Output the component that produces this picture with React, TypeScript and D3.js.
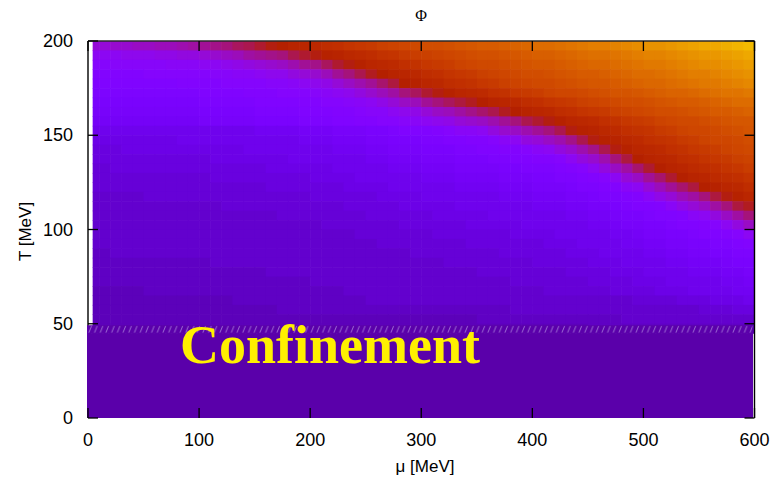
import React from 'react';
import * as d3 from 'd3';

// grid: mu column centres [MeV], T row centres [MeV]
const MU_COLS = [5,15,25,35,45,55,65,75,85,95,105,115,125,135,145,155,165,175,185,195,205,215,225,235,245,255,265,275,285,295,305,315,325,335,345,355,365,375,385,395,405,415,425,435,445,455,465,475,485,495,505,515,525,535,545,555,565,575,585,595];
const T_ROWS = [197.5,192.5,187.5,182.5,177.5,172.5,167.5,162.5,157.5,152.5,147.5,142.5,137.5,132.5,127.5,122.5,117.5,112.5,107.5,102.5,97.5,92.5,87.5,82.5,77.5,72.5,67.5,62.5,57.5,52.5,47.5];

// Phi (colour-box fraction, in %) per T row, per mu column
const PHI = [
[34,34,35,35,36,36,37,37,38,39,40,41,42,44,45,47,49,50,52,53,54,56,57,59,60,61,63,64,65,66,67,67,68,69,70,71,71,72,73,74,75,75,76,77,78,79,79,80,81,82,83,83,84,85,86,87,87,88,89,90],
[30,30,30,31,31,31,32,32,33,33,34,35,36,37,39,40,41,42,45,47,49,51,52,54,55,56,58,59,61,62,63,64,65,66,67,68,68,69,70,71,72,72,73,74,75,76,76,77,78,79,80,80,81,82,83,84,84,85,86,87],
[27,27,28,28,28,28,28,29,29,29,30,30,31,32,33,34,35,36,38,40,41,44,47,49,51,53,54,55,57,58,60,61,62,64,65,66,66,67,68,69,70,70,71,72,73,74,74,75,76,77,78,78,79,80,81,82,82,83,84,85],
[26,26,26,26,26,27,27,27,27,27,27,28,28,29,29,30,31,31,33,34,35,37,40,42,45,48,50,52,53,54,56,57,59,60,61,63,64,65,66,67,67,68,69,70,71,71,72,73,74,75,75,76,77,78,79,79,80,81,82,83],
[25,25,25,25,25,25,25,25,26,26,26,26,27,27,27,27,28,28,29,30,31,32,34,36,38,40,43,46,50,51,53,54,56,57,58,60,61,63,64,65,66,66,67,68,69,70,70,71,72,73,74,74,75,76,77,78,78,79,80,81],
[24,24,24,24,24,24,24,24,24,24,25,25,25,25,26,26,26,27,27,27,28,29,30,31,33,35,37,39,42,44,47,49,51,53,54,55,57,58,60,61,62,64,65,65,66,67,68,69,69,70,71,72,73,73,74,75,76,77,77,78],
[23,23,23,23,23,23,23,23,23,23,24,24,24,24,24,25,25,25,25,26,26,27,27,28,29,30,32,34,36,37,40,42,44,46,48,50,52,53,54,56,57,59,60,61,63,64,65,66,67,67,68,69,70,71,71,72,73,74,75,75],
[22,22,22,22,22,22,22,22,22,22,23,23,23,23,23,24,24,24,24,25,25,25,26,26,27,28,28,30,31,32,34,36,37,39,41,43,45,48,50,52,53,54,56,57,59,60,61,63,64,65,66,67,67,68,69,70,71,71,72,73],
[21,21,21,21,21,21,21,21,21,21,22,22,22,22,22,23,23,23,23,24,24,24,25,25,26,26,27,27,28,29,30,31,32,34,35,36,38,40,42,45,47,49,51,53,54,55,57,58,60,61,62,64,65,66,66,67,68,69,70,70],
[19,19,19,19,19,19,19,19,19,19,19,19,19,19,19,20,20,20,20,21,21,21,22,22,22,23,23,24,25,25,25,26,27,29,29,30,33,35,36,38,40,42,45,49,51,52,54,55,57,58,59,61,62,64,65,65,66,67,68,69],
[18,18,18,18,18,18,18,18,19,19,19,19,19,19,19,19,19,19,19,20,20,20,21,21,21,22,22,23,23,23,24,24,25,25,26,26,27,29,30,33,34,36,38,41,45,49,51,52,54,55,57,58,59,61,62,64,65,65,66,67],
[17,17,17,18,18,18,18,18,18,18,18,18,18,18,19,19,19,19,19,19,19,19,20,20,20,21,21,22,22,22,23,23,23,24,24,25,25,26,26,27,29,30,33,35,38,41,45,49,51,53,54,55,57,58,60,61,62,64,65,66],
[17,17,17,17,17,17,17,17,17,17,17,18,18,18,18,18,18,18,19,19,19,19,19,19,19,20,20,21,21,21,22,22,22,23,23,23,24,24,25,25,26,26,27,30,33,35,38,42,46,50,52,53,54,56,57,59,60,61,63,64],
[16,16,17,17,17,17,17,17,17,17,17,17,17,17,17,17,18,18,18,18,18,18,19,19,19,19,19,20,20,20,21,21,21,22,22,22,22,23,23,24,24,24,25,26,27,30,33,36,39,43,47,50,52,53,55,56,57,59,60,62],
[16,16,16,16,16,16,16,16,16,16,16,17,17,17,17,17,17,17,17,17,18,18,18,18,19,19,19,19,19,19,20,20,20,21,21,21,21,22,22,22,23,23,24,24,25,26,27,30,34,36,40,43,47,50,52,53,55,56,57,59],
[16,16,16,16,16,16,16,16,16,16,16,16,16,16,16,16,17,17,17,17,17,17,17,18,18,18,18,19,19,19,19,19,19,20,20,20,20,21,21,21,22,22,22,23,24,24,25,26,29,30,34,37,40,43,46,50,51,53,54,56],
[15,15,15,15,15,16,16,16,16,16,16,16,16,16,16,16,16,16,16,16,17,17,17,17,17,17,18,18,18,18,19,19,19,19,19,19,19,20,20,20,21,21,21,22,22,23,24,24,25,26,29,32,34,37,39,42,46,49,51,53],
[15,15,15,15,15,15,15,15,15,15,15,15,16,16,16,16,16,16,16,16,16,16,16,17,17,17,17,17,18,18,18,18,18,19,19,19,19,19,19,19,20,20,20,21,21,22,22,23,24,25,25,26,29,32,34,36,39,42,46,48],
[15,15,15,15,15,15,15,15,15,15,15,15,15,15,15,15,15,16,16,16,16,16,16,16,16,17,17,17,17,17,17,18,18,18,18,18,19,19,19,19,19,19,19,20,20,21,21,22,23,23,24,25,25,26,29,30,33,36,39,42],
[15,15,15,15,15,15,15,15,15,15,15,15,15,15,15,15,15,15,15,15,15,16,16,16,16,16,16,16,17,17,17,17,17,17,18,18,18,18,18,19,19,19,19,19,19,20,20,21,22,22,23,23,24,25,25,26,27,30,33,36],
[15,15,15,15,15,15,15,15,15,15,15,15,15,15,15,15,15,15,15,15,15,15,15,15,16,16,16,16,16,16,16,17,17,17,17,17,17,17,18,18,18,18,19,19,19,19,19,20,20,21,22,22,23,23,24,25,25,26,27,30],
[15,15,15,15,15,15,15,15,15,15,15,15,15,15,15,15,15,15,15,15,15,15,15,15,15,15,16,16,16,16,16,16,16,16,17,17,17,17,17,17,17,18,18,18,19,19,19,19,20,20,21,21,22,22,23,23,24,24,25,26],
[14,14,15,15,15,15,15,15,15,15,15,15,15,15,15,15,15,15,15,15,15,15,15,15,15,15,15,15,15,16,16,16,16,16,16,16,16,17,17,17,17,17,17,18,18,18,19,19,19,19,20,20,21,21,22,22,23,23,24,24],
[14,14,14,14,14,14,14,14,14,14,14,15,15,15,15,15,15,15,15,15,15,15,15,15,15,15,15,15,15,15,15,15,16,16,16,16,16,16,16,16,17,17,17,17,17,18,18,18,19,19,19,19,20,20,21,21,21,22,23,23],
[14,14,14,14,14,14,14,14,14,14,14,14,14,14,14,14,15,15,15,15,15,15,15,15,15,15,15,15,15,15,15,15,15,15,15,16,16,16,16,16,16,16,16,17,17,17,17,18,18,18,19,19,19,19,20,20,20,21,21,22],
[14,14,14,14,14,14,14,14,14,14,14,14,14,14,14,14,14,14,14,14,15,15,15,15,15,15,15,15,15,15,15,15,15,15,15,15,15,15,16,16,16,16,16,16,16,17,17,17,17,18,18,18,19,19,19,19,19,20,20,21],
[13,13,13,13,13,14,14,14,14,14,14,14,14,14,14,14,14,14,14,14,14,14,14,15,15,15,15,15,15,15,15,15,15,15,15,15,15,15,15,15,15,16,16,16,16,16,16,17,17,17,17,18,18,18,19,19,19,19,20,20],
[13,13,13,13,13,13,13,13,13,13,13,13,13,14,14,14,14,14,14,14,14,14,14,14,14,15,15,15,15,15,15,15,15,15,15,15,15,15,15,15,15,15,15,15,15,15,15,15,15,16,16,16,16,17,17,17,18,18,18,19],
[13,13,13,13,13,13,13,13,13,13,13,13,13,13,13,13,13,14,14,14,14,14,14,14,14,14,14,14,14,14,14,14,14,14,14,14,14,14,15,15,15,15,15,15,15,15,15,15,15,15,15,15,15,15,15,16,16,16,17,17],
[13,13,13,13,13,13,13,13,13,13,13,13,13,13,13,13,13,13,13,13,13,13,13,13,13,13,13,13,13,13,13,13,13,13,13,14,14,14,14,14,14,14,14,14,14,14,14,14,15,15,15,15,15,15,15,15,15,15,15,15],
[13,13,13,13,13,13,13,13,13,13,13,13,13,13,13,13,13,13,13,13,13,13,13,13,13,13,13,13,13,13,13,13,13,13,13,13,13,13,13,13,13,13,13,13,13,14,14,14,14,14,14,14,14,14,14,14,14,14,14,14]
];

const X_TICKS = [0, 100, 200, 300, 400, 500, 600];
const Y_TICKS = [0, 50, 100, 150, 200];
const TITLE = '\u03A6';
const X_LABEL = '\u03BC [MeV]';
const Y_LABEL = 'T [MeV]';
const REGION_LABEL = 'Confinement';
const CONFINEMENT_T = [0, 49.2];
const MU_GRID_START = 4.2;
const D_MU = 10;
const D_T = 5;

// gnuplot default pm3d palette (rgbformulae 7,5,15)
function palette(v: number): string {
  const c = (u: number) => Math.round(255 * Math.max(0, Math.min(1, u)));
  return d3.rgb(c(Math.sqrt(v)), c(v * v * v), c(Math.sin(2 * Math.PI * v))).formatHex();
}

export default function App() {
  const W = 776, H = 477;
  const x = d3.scaleLinear().domain([0, 600]).range([88, 754.5]);
  const y = d3.scaleLinear().domain([0, 200]).range([418, 41]);
  const sans = "'Liberation Sans', Arial, Helvetica, sans-serif";
  const serif = "'Liberation Serif', 'Times New Roman', serif";
  const tickLen = 10;

  const cells: JSX.Element[] = [];
  T_ROWS.forEach((t, r) => {
    const y0 = y(Math.min(200, t + D_T / 2));
    const y1 = y(t - D_T / 2);
    MU_COLS.forEach((m, c) => {
      const left = Math.max(m - D_MU / 2, MU_GRID_START);
      const x0 = x(left);
      const x1 = x(Math.min(600, m + D_MU / 2));
      cells.push(
        <rect key={`c${r}-${c}`} x={x0} y={y0} width={x1 - x0 + 0.6} height={y1 - y0 + 0.6}
          fill={palette(PHI[r][c] / 100)} />
      );
    });
  });

  const confTop = y(CONFINEMENT_T[1]);
  const confBot = y(CONFINEMENT_T[0]);

  return (
    <svg width={W} height={H} viewBox={`0 0 ${W} ${H}`}
      style={{ position: 'absolute', left: 0, top: 0, background: '#fff' }}>
      <defs>
        <clipPath id="plotclip">
          <rect x={x(0)} y={y(200)} width={x(600) - x(0)} height={y(0) - y(200)} />
        </clipPath>
        <pattern id="hatch" patternUnits="userSpaceOnUse" width={5.7} height={8} x={x(0)} y={confTop}>
          <line x1={0.8} y1={7.5} x2={3.6} y2={0.5} stroke="#e6dcff" strokeWidth={0.9} strokeOpacity={0.55} />
        </pattern>
      </defs>
      <rect x={0} y={0} width={W} height={H} fill="#fff" />
      <g clipPath="url(#plotclip)">{cells}</g>

      {/* border (top, left) */}
      <line x1={x(0)} x2={x(600)} y1={y(200)} y2={y(200)} stroke="#2a2a2a" strokeWidth={1.6} />
      <line x1={x(0)} x2={x(0)} y1={y(200)} y2={y(0)} stroke="#000" strokeWidth={1.4} />

      {/* confinement region */}
      <rect x={x(0) - 1} y={confTop} width={x(600) - x(0) - 0.5} height={confBot - confTop} fill="#5a00aa" />
      <rect x={x(0)} y={confTop + 0.5} width={x(600) - x(0) - 2} height={7.5} fill="url(#hatch)" />
      <line x1={x(600)} x2={x(600)} y1={y(200)} y2={y(0)} stroke="#000" strokeWidth={1.4} />

      {/* ticks */}
      {Y_TICKS.map(t => (
        <g key={`yt${t}`}>
          <line x1={x(0)} x2={x(0) + tickLen} y1={y(t)} y2={y(t)} stroke="#000" strokeWidth={1.3} />
          <line x1={x(600)} x2={x(600) - tickLen} y1={y(t)} y2={y(t)} stroke="#000" strokeWidth={1.3} />
          <text x={73} y={y(t)} textAnchor="end" dominantBaseline="central" fontFamily={sans} fontSize={18} fill="#000">{t}</text>
        </g>
      ))}
      {X_TICKS.map(m => (
        <g key={`xt${m}`}>
          <line x1={x(m)} x2={x(m)} y1={y(0)} y2={y(0) - tickLen} stroke="#000" strokeWidth={1.3} />
          <line x1={x(m)} x2={x(m)} y1={y(200)} y2={y(200) + tickLen} stroke="#000" strokeWidth={1.3} />
          <text x={x(m)} y={446} textAnchor="middle" fontFamily={sans} fontSize={18} fill="#000">{m}</text>
        </g>
      ))}

      {/* labels */}
      <text x={421} y={21} textAnchor="middle" fontFamily={serif} fontSize={16} fill="#000">{TITLE}</text>
      <text x={425} y={472} textAnchor="middle" fontFamily={sans} fontSize={17} fill="#000">{X_LABEL}</text>
      <text transform={`translate(25,${(y(0) + y(200)) / 2 + 2}) rotate(-90)`} textAnchor="middle"
        dominantBaseline="central" fontFamily={sans} fontSize={17} fill="#000">{Y_LABEL}</text>
      <text x={180} y={363} fontFamily={serif} fontWeight="bold" fontSize={54} fill="#fff000">{REGION_LABEL}</text>
    </svg>
  );
}
